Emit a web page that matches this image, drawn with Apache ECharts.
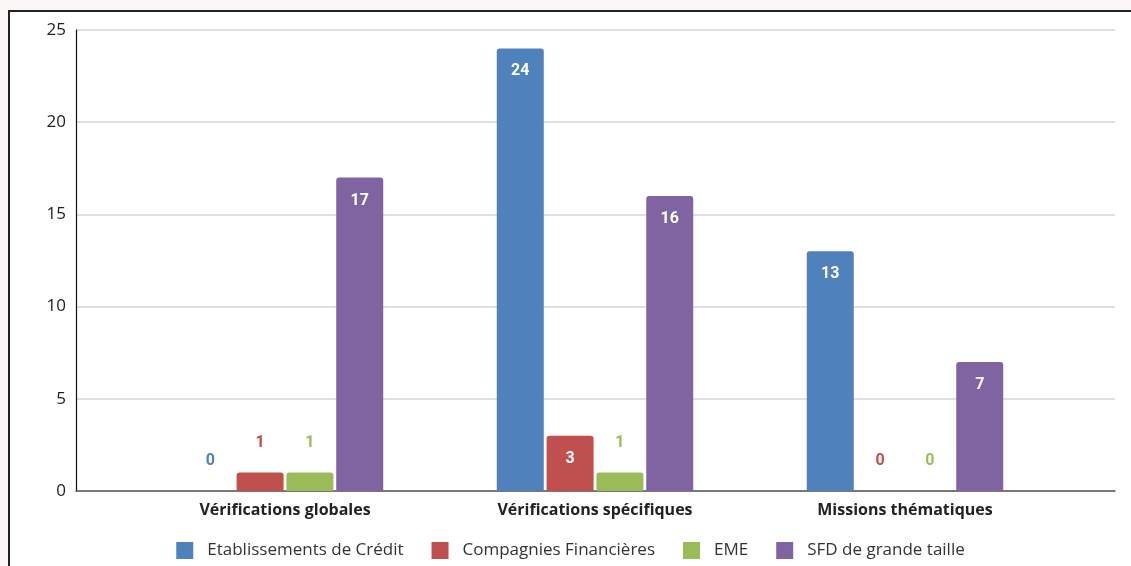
<!DOCTYPE html>
<html>
<head>
<meta charset="utf-8">
<script src="https://cdn.jsdelivr.net/npm/echarts@6/dist/echarts.min.js"></script>
<style>
  html, body { margin: 0; padding: 0; background: #faf7f6; }
  #chart {
    position: absolute; left: 8px; top: 10px;
    width: 1123px; height: 556px;
    background: #fff;
    border-top: 2px solid #222; border-left: 2px solid #222;
    box-sizing: border-box;
  }
</style>
</head>
<body>
<div id="chart"></div>
<script>
const categories = ['Vérifications globales', 'Vérifications spécifiques', 'Missions thématiques']
const seriesNames = ['Etablissements de Crédit', 'Compagnies Financières', 'EME', 'SFD de grande taille']
const credit = [0, 24, 13]
const compagnies = [1, 3, 0]
const eme = [1, 1, 0]
const sfd = [17, 16, 7]
const colors = ['#4f81bd', '#c0504d', '#9bbb59', '#8064a2']
const yTicks = { min: 0, max: 25, interval: 5 }

const chart = echarts.init(document.getElementById('chart'))

function makeSeries(name, values, color) {
  return {
    name: name,
    type: 'bar',
    xAxisIndex: 1,
    yAxisIndex: 1,
    barWidth: 47,
    barGap: '6%',
    itemStyle: { color: color, borderRadius: [3, 3, 0, 0] },
    data: values.map(v => {
      const inside = v >= 3
      return {
        value: v,
        label: {
          show: true,
          position: inside ? 'insideTop' : 'top',
          distance: inside ? 15 : 22,
          color: inside ? '#fff' : color,
          fontFamily: 'Roboto',
          fontWeight: 'bold',
          fontSize: 16
        }
      }
    })
  }
}

chart.setOption({
  animation: false,
  color: colors,
  grid: [
    { left: 66, right: 16, top: 18, bottom: 75 },
    { left: 120, right: 71, top: 18, bottom: 75 }
  ],
  xAxis: [
    {
      gridIndex: 0, type: 'value', min: 0, max: 1,
      axisLine: { show: true, onZero: false, lineStyle: { color: '#555', width: 1.5 } },
      axisTick: { show: false }, axisLabel: { show: false }, splitLine: { show: false }
    },
    {
      gridIndex: 1, type: 'category', data: categories,
      axisLine: { show: false }, axisTick: { show: false },
      axisLabel: {
        color: '#222', fontFamily: 'Open Sans', fontWeight: 'bold',
        fontSize: 16, margin: 11
      }
    }
  ],
  yAxis: [
    {
      gridIndex: 0, type: 'value', min: yTicks.min, max: yTicks.max, interval: yTicks.interval,
      axisLine: { show: true, lineStyle: { color: '#111', width: 1.2 } },
      axisTick: { show: false },
      axisLabel: { color: '#222', fontFamily: 'Open Sans', fontSize: 17, margin: 10 },
      splitLine: { lineStyle: { color: '#d6d6d6', width: 1.5 } }
    },
    {
      gridIndex: 1, type: 'value', min: yTicks.min, max: yTicks.max, interval: yTicks.interval,
      show: false
    }
  ],
  legend: {
    top: 525,
    left: 'center',
    itemWidth: 17,
    itemHeight: 17,
    itemGap: 28,
    icon: 'rect',
    textStyle: { color: '#333', fontFamily: 'Open Sans', fontSize: 17, padding: [0, 0, 0, 9] },
    data: seriesNames
  },
  series: [
    makeSeries(seriesNames[0], credit, colors[0]),
    makeSeries(seriesNames[1], compagnies, colors[1]),
    makeSeries(seriesNames[2], eme, colors[2]),
    makeSeries(seriesNames[3], sfd, colors[3])
  ]
})

window.onresize = () => {
  chart.resize()
}
</script>
</body>
</html>
